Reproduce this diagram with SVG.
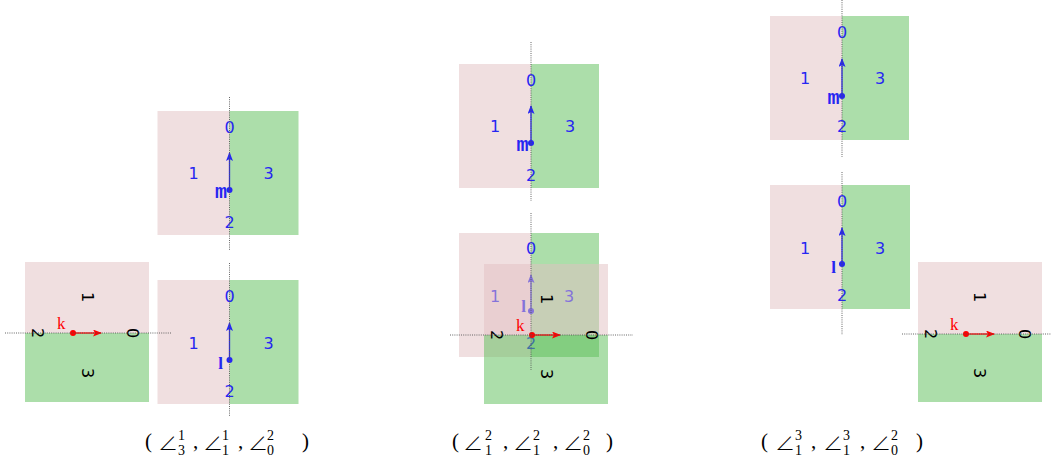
<svg xmlns="http://www.w3.org/2000/svg" width="1051" height="464" viewBox="0 0 1051 464">
<style>
.pk{fill:#e1bfc1;fill-opacity:0.5}
.gr{fill:#59bd55;fill-opacity:0.5}
.dot{stroke:#555;stroke-width:0.9;stroke-dasharray:1 1.2;fill:none}
.bl{fill:#2626f2;font-family:"DejaVu Sans",sans-serif;font-size:16px;text-anchor:middle;dominant-baseline:central}
.bk{fill:#000;font-family:"DejaVu Sans",sans-serif;font-size:16px;text-anchor:middle;dominant-baseline:central}
.nm{fill:#2626f2;font-family:"Liberation Mono",monospace;font-weight:bold;font-size:20px;text-anchor:end}
.nl{fill:#2626f2;font-family:"Liberation Serif",serif;font-weight:bold;font-size:17px;text-anchor:end}
.kl{fill:#ff0000;font-family:"Liberation Serif",serif;font-size:17px}
.ba{stroke:#2626f2;stroke-width:1.3;fill:none}
.ra{stroke:#ff0000;stroke-width:1.3;fill:none}
.cap{font-family:"Liberation Serif","DejaVu Serif",serif;font-size:21px;fill:#000}
.ang{font-family:"Noto Sans CJK SC","DejaVu Sans",sans-serif;font-weight:300;font-size:20px;fill:#000}
.ss{font-family:"Liberation Serif",serif;font-size:14px;fill:#000}
</style>
<defs>
<marker id="ab" markerUnits="userSpaceOnUse" markerWidth="10" markerHeight="8" refX="8" refY="3.5" orient="auto"><path d="M0,0 L9,3.5 L0,7 L2,3.5 z" fill="#2626f2"/></marker>
<marker id="ar" markerUnits="userSpaceOnUse" markerWidth="10" markerHeight="8" refX="8" refY="3.5" orient="auto"><path d="M0,0 L9,3.5 L0,7 L2,3.5 z" fill="#ff0000"/></marker>
</defs>

<!-- Panel 1 -->
<g id="p1-m">
<rect class="pk" x="157.5" y="111" width="72" height="124"/>
<rect class="gr" x="229.5" y="111" width="69" height="124"/>
<text class="bl" x="229.5" y="127">0</text>
<text class="bl" x="229.5" y="222">2</text>
<text class="bl" x="193.5" y="173">1</text>
<text class="bl" x="268.5" y="173">3</text>
<line class="ba" x1="229.5" y1="190" x2="229.5" y2="153" marker-end="url(#ab)"/>
<circle cx="229.5" cy="190" r="3" fill="#2626f2"/>
<text class="nm" x="227" y="198">m</text>
</g>
<g id="p1-l">
<rect class="pk" x="157.5" y="280" width="72" height="124"/>
<rect class="gr" x="229.5" y="280" width="69" height="124"/>
<text class="bl" x="229.5" y="296">0</text>
<text class="bl" x="229.5" y="391">2</text>
<text class="bl" x="193.5" y="343">1</text>
<text class="bl" x="268.5" y="343">3</text>
<line class="ba" x1="229.5" y1="360" x2="229.5" y2="323" marker-end="url(#ab)"/>
<circle cx="229.5" cy="360" r="3" fill="#2626f2"/>
<text class="nl" x="223" y="369">l</text>
</g>
<g id="p1-k">
<rect class="pk" x="25" y="262" width="124" height="71"/>
<rect class="gr" x="25" y="333" width="124" height="69"/>
<text class="bk" x="87" y="297" transform="rotate(90 87 297)">1</text>
<text class="bk" x="87" y="373" transform="rotate(90 87 373)">3</text>
<text class="bk" x="37" y="333" transform="rotate(90 37 333)">2</text>
<text class="bk" x="132" y="333" transform="rotate(90 132 333)">0</text>
<line class="ra" x1="73" y1="333" x2="101" y2="333" marker-end="url(#ar)"/>
<circle cx="73" cy="333" r="3" fill="#ff0000"/>
<text class="kl" x="57" y="329">k</text>
</g>

<!-- Panel 2 -->
<g id="p2-m">
<rect class="pk" x="459" y="64" width="72" height="124"/>
<rect class="gr" x="531" y="64" width="68" height="124"/>
<text class="bl" x="531" y="80">0</text>
<text class="bl" x="531" y="175">2</text>
<text class="bl" x="495" y="126">1</text>
<text class="bl" x="570" y="126">3</text>
<line class="ba" x1="531" y1="143" x2="531" y2="106" marker-end="url(#ab)"/>
<circle cx="531" cy="143" r="3" fill="#2626f2"/>
<text class="nm" x="528.5" y="151">m</text>
</g>
<g id="p2-l">
<rect class="pk" x="459" y="233" width="72" height="124"/>
<rect class="gr" x="531" y="233" width="68" height="124"/>
<text class="bl" x="531" y="248">0</text>
<text class="bl" x="531" y="343">2</text>
<text class="bl" x="495" y="296">1</text>
<text class="bl" x="569" y="296">3</text>
<line class="ba" x1="531" y1="311" x2="531" y2="275" marker-end="url(#ab)"/>
<circle cx="531" cy="311" r="3" fill="#2626f2"/>
<text class="nl" x="526" y="312">l</text>
</g>
<g id="p2-k">
<rect class="pk" x="484" y="264" width="124" height="71"/>
<rect class="gr" x="484" y="335" width="124" height="69"/>
<text class="bk" x="546" y="299" transform="rotate(90 546 299)">1</text>
<text class="bk" x="546" y="374" transform="rotate(90 546 374)">3</text>
<text class="bk" x="496" y="335" transform="rotate(90 496 335)">2</text>
<text class="bk" x="591" y="335" transform="rotate(90 591 335)">0</text>
<line class="ra" x1="532" y1="335" x2="560" y2="335" marker-end="url(#ar)"/>
<circle cx="532" cy="335" r="3" fill="#ff0000"/>
<text class="kl" x="516" y="331">k</text>
</g>

<!-- Panel 3 -->
<g id="p3-m">
<rect class="pk" x="770" y="16" width="72" height="124"/>
<rect class="gr" x="842" y="16" width="67" height="124"/>
<text class="bl" x="842" y="32">0</text>
<text class="bl" x="842" y="126">2</text>
<text class="bl" x="805" y="78">1</text>
<text class="bl" x="880" y="78">3</text>
<line class="ba" x1="842" y1="96" x2="842" y2="59" marker-end="url(#ab)"/>
<circle cx="842" cy="96" r="3" fill="#2626f2"/>
<text class="nm" x="839.5" y="104">m</text>
</g>
<g id="p3-l">
<rect class="pk" x="770" y="185" width="72" height="124"/>
<rect class="gr" x="842" y="185" width="68" height="124"/>
<text class="bl" x="842" y="201">0</text>
<text class="bl" x="842" y="295">2</text>
<text class="bl" x="805" y="248">1</text>
<text class="bl" x="880" y="248">3</text>
<line class="ba" x1="842" y1="264" x2="842" y2="228" marker-end="url(#ab)"/>
<circle cx="842" cy="264" r="3" fill="#2626f2"/>
<text class="nl" x="836" y="273">l</text>
</g>
<g id="p3-k">
<rect class="pk" x="918" y="262" width="124" height="72"/>
<rect class="gr" x="918" y="334" width="124" height="68"/>
<text class="bk" x="979" y="297" transform="rotate(90 979 297)">1</text>
<text class="bk" x="979" y="373" transform="rotate(90 979 373)">3</text>
<text class="bk" x="930" y="334" transform="rotate(90 930 334)">2</text>
<text class="bk" x="1024" y="334" transform="rotate(90 1024 334)">0</text>
<line class="ra" x1="966" y1="334" x2="994" y2="334" marker-end="url(#ar)"/>
<circle cx="966" cy="334" r="3" fill="#ff0000"/>
<text class="kl" x="950" y="330">k</text>
</g>

<g id="axes">
<line class="dot" x1="229.5" y1="97" x2="229.5" y2="250"/>
<line class="dot" x1="229.5" y1="263" x2="229.5" y2="417"/>
<line class="dot" x1="5" y1="333" x2="172" y2="333"/>
<line class="dot" x1="531" y1="42" x2="531" y2="201"/>
<line class="dot" x1="531" y1="213" x2="531" y2="370"/>
<line class="dot" x1="450" y1="335" x2="633" y2="335"/>
<line class="dot" x1="842" y1="0" x2="842" y2="157"/>
<line class="dot" x1="842" y1="172" x2="842" y2="335"/>
<line class="dot" x1="902" y1="334" x2="1051" y2="334"/>
</g>

<g id="caption-1">
<text class="cap" x="145" y="448">(</text>
<text class="ang" x="158" y="451">∠</text>
<text class="ss" x="178" y="440">1</text>
<text class="ss" x="178" y="455">3</text>
<text class="cap" x="193" y="448">,</text>
<text class="ang" x="203" y="451">∠</text>
<text class="ss" x="222" y="440">1</text>
<text class="ss" x="222" y="455">1</text>
<text class="cap" x="238" y="448">,</text>
<text class="ang" x="248" y="451">∠</text>
<text class="ss" x="267" y="440">2</text>
<text class="ss" x="267" y="455">0</text>
<text class="cap" x="302" y="448">)</text>
</g>
<g id="caption-2">
<text class="cap" x="452" y="448">(</text>
<text class="ang" x="463" y="451">∠</text>
<text class="ss" x="485" y="440">2</text>
<text class="ss" x="485" y="455">1</text>
<text class="cap" x="503" y="448">,</text>
<text class="ang" x="513" y="451">∠</text>
<text class="ss" x="533" y="440">2</text>
<text class="ss" x="533" y="455">1</text>
<text class="cap" x="553" y="448">,</text>
<text class="ang" x="563" y="451">∠</text>
<text class="ss" x="583" y="440">2</text>
<text class="ss" x="583" y="455">0</text>
<text class="cap" x="606" y="448">)</text>
</g>
<g id="caption-3">
<text class="cap" x="761" y="448">(</text>
<text class="ang" x="775" y="451">∠</text>
<text class="ss" x="795" y="440">3</text>
<text class="ss" x="795" y="455">1</text>
<text class="cap" x="811" y="448">,</text>
<text class="ang" x="823" y="451">∠</text>
<text class="ss" x="843" y="440">3</text>
<text class="ss" x="843" y="455">1</text>
<text class="cap" x="860" y="448">,</text>
<text class="ang" x="871" y="451">∠</text>
<text class="ss" x="891" y="440">2</text>
<text class="ss" x="891" y="455">0</text>
<text class="cap" x="916" y="448">)</text>
</g>
</svg>
